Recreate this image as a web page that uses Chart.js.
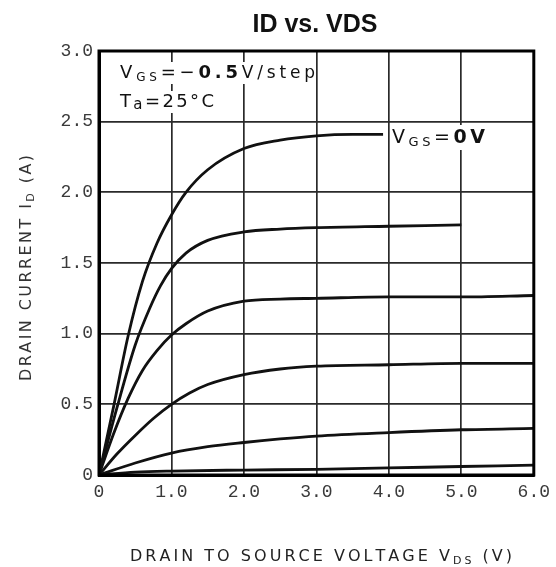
<!DOCTYPE html>
<html>
<head>
<meta charset="utf-8">
<script src="https://cdn.jsdelivr.net/npm/chart.js@4/dist/chart.umd.min.js"></script>
<style>
  html, body { margin: 0; padding: 0; background: #fff; }
  #wrap { width: 556px; height: 567px; }
</style>
</head>
<body>
<div id="wrap"><canvas id="c" width="556" height="567"></canvas></div>
<script>
// ---- Data ----
const seriesLabels = ['VGS = 0V', 'VGS = -0.5V', 'VGS = -1.0V', 'VGS = -1.5V', 'VGS = -2.0V', 'VGS = -2.5V'];

const vds0 = [0, 0.20, 0.40, 0.60, 0.80, 1.00, 1.20, 1.50, 2.00, 2.50, 3.00, 3.50, 3.92];
const id0  = [0, 0.48, 0.98, 1.37, 1.64, 1.84, 2.00, 2.16, 2.31, 2.37, 2.40, 2.41, 2.41];

const vds1 = [0, 0.25, 0.50, 0.70, 0.85, 1.00, 1.20, 1.50, 2.00, 2.50, 3.00, 4.00, 5.00];
const id1  = [0, 0.48, 0.92, 1.18, 1.34, 1.46, 1.57, 1.66, 1.72, 1.74, 1.75, 1.76, 1.77];

const vds2 = [0, 0.20, 0.40, 0.60, 0.80, 1.00, 1.20, 1.50, 2.00, 2.50, 3.00, 4.00, 5.00, 6.00];
const id2  = [0, 0.29, 0.54, 0.74, 0.88, 0.99, 1.07, 1.16, 1.23, 1.245, 1.25, 1.26, 1.26, 1.27];

const vds3 = [0, 0.25, 0.50, 0.75, 1.00, 1.25, 1.50, 2.00, 2.50, 3.00, 4.00, 5.00, 6.00];
const id3  = [0, 0.15, 0.28, 0.40, 0.50, 0.58, 0.64, 0.71, 0.75, 0.77, 0.78, 0.79, 0.79];

const vds4 = [0, 0.50, 1.00, 1.50, 2.00, 2.50, 3.00, 4.00, 5.00, 6.00];
const id4  = [0, 0.085, 0.155, 0.20, 0.23, 0.255, 0.275, 0.30, 0.32, 0.33];

const vds5 = [0, 0.50, 1.00, 2.00, 3.00, 4.00, 5.00, 6.00];
const id5  = [0, 0.02, 0.028, 0.035, 0.04, 0.05, 0.06, 0.07];

const xTicks = [0, 1, 2, 3, 4, 5, 6];
const xTickLabels = ['0', '1.0', '2.0', '3.0', '4.0', '5.0', '6.0'];
const yTicks = [0, 0.5, 1, 1.5, 2, 2.5, 3];
const yTickLabels = ['0', '0.5', '1.0', '1.5', '2.0', '2.5', '3.0'];

const chartTitle = 'ID vs. VDS';

// ---- build datasets ----
const xs = [vds0, vds1, vds2, vds3, vds4, vds5];
const ys = [id0, id1, id2, id3, id4, id5];
const datasets = xs.map((xa, i) => ({
  label: seriesLabels[i],
  data: xa.map((x, j) => ({ x: x, y: ys[i][j] })),
  borderColor: '#111',
  borderWidth: 2.8,
  pointRadius: 0,
  fill: false,
  cubicInterpolationMode: 'monotone'
}));

// ---- rich text helper ----
function richMeasure(ctx, segs) {
  let w = 0, n = 0;
  for (const s of segs) {
    ctx.font = s.f;
    for (const ch of s.t) { w += ctx.measureText(ch).width; n++; }
  }
  return { w, n };
}
function drawRich(ctx, segs, x, y, o) {
  o = o || {};
  const m = richMeasure(ctx, segs);
  let ls = o.ls || 0;
  if (o.target) ls = (o.target - m.w) / (m.n - 1);
  const total = m.w + ls * (m.n - 1);
  let cx = o.align === 'center' ? x - total / 2 : x;
  if (o.bg) {
    ctx.fillStyle = '#fff';
    ctx.fillRect(cx - 2, y - o.bg[0], total + 3, o.bg[0] + o.bg[1]);
  }
  ctx.textAlign = 'left';
  ctx.textBaseline = 'alphabetic';
  for (const s of segs) {
    ctx.font = s.f;
    ctx.fillStyle = s.c || o.color || '#111';
    for (const ch of s.t) {
      ctx.fillText(ch, cx, y + (s.dy || 0));
      cx += ctx.measureText(ch).width + ls;
    }
  }
}

const FS = '"Liberation Sans", Arial, sans-serif';
const FD = '"DejaVu Sans", sans-serif';

const decor = {
  id: 'decor',
  afterDatasetsDraw(chart) {
    const ctx = chart.ctx;
    const a = chart.chartArea;
    ctx.save();
    ctx.strokeStyle = '#000';
    ctx.lineWidth = 3;
    ctx.strokeRect(a.left, a.top, a.right - a.left, a.bottom - a.top);
    ctx.restore();
  },
  afterDraw(chart) {
    const ctx = chart.ctx;
    ctx.save();
    // Title
    ctx.font = 'bold 25px ' + FS;
    ctx.fillStyle = '#111';
    ctx.textAlign = 'center';
    ctx.textBaseline = 'middle';
    ctx.fillText(chartTitle, 315, 25);

    // Annotation block
    drawRich(ctx, [
      { t: 'V', f: '18px ' + FD },
      { t: 'GS', f: '12px ' + FD, dy: 3 },
      { t: '=\u2212', f: '18px ' + FD },
      { t: '0.5', f: 'bold 18px ' + FD },
      { t: 'V/step', f: '17px ' + FD }
    ], 120, 78, { target: 195, bg: [16, 6] });
    drawRich(ctx, [
      { t: 'T', f: '18px ' + FD },
      { t: 'a', f: '15px ' + FD, dy: 2 },
      { t: '=25\u00b0C', f: '18px ' + FD }
    ], 120, 107, { target: 94, bg: [16, 6] });

    // Curve label
    drawRich(ctx, [
      { t: 'V', f: '19px ' + FD },
      { t: 'GS', f: '13px ' + FD, dy: 3 },
      { t: '=', f: '19px ' + FD },
      { t: '0V', f: 'bold 19px ' + FD }
    ], 392, 143, { target: 93, bg: [18, 7] });

    // X axis title
    drawRich(ctx, [
      { t: 'DRAIN TO SOURCE VOLTAGE V', f: '16px ' + FD },
      { t: 'DS', f: '11px ' + FD, dy: 3 },
      { t: ' (V)', f: '16px ' + FD }
    ], 321, 561, { target: 382, align: 'center', color: '#222' });

    // Y axis title (rotated)
    ctx.translate(31, 268);
    ctx.rotate(-Math.PI / 2);
    drawRich(ctx, [
      { t: 'DRAIN CURRENT I', f: '16px ' + FD },
      { t: 'D', f: '11px ' + FD, dy: 3 },
      { t: ' (A)', f: '16px ' + FD }
    ], 0, 0, { target: 226, align: 'center', color: '#333' });
    ctx.restore();
  }
};

new Chart(document.getElementById('c'), {
  type: 'line',
  data: { datasets },
  plugins: [decor],
  options: {
    responsive: false,
    animation: false,
    devicePixelRatio: 1,
    layout: { padding: { top: 51, right: 21, left: 0, bottom: 0 } },
    plugins: { legend: { display: false }, tooltip: { enabled: false }, title: { display: false } },
    scales: {
      x: {
        type: 'linear', min: 0, max: 6,
        afterBuildTicks(s) { s.ticks = xTicks.map(v => ({ value: v })); },
        afterFit(s) { s.height = 92; },
        ticks: {
          padding: 6, color: '#3a3a3a', maxRotation: 0, autoSkip: false,
          font: { family: '"Liberation Mono", "DejaVu Sans Mono", monospace', size: 18 },
          callback: (v) => xTickLabels[xTicks.indexOf(v)]
        },
        grid: { color: '#2a2a2a', lineWidth: 1.7, drawTicks: false },
        border: { display: true, color: '#000', width: 3 }
      },
      y: {
        type: 'linear', min: 0, max: 3,
        afterBuildTicks(s) { s.ticks = yTicks.map(v => ({ value: v })); },
        afterFit(s) { s.width = 99; },
        ticks: {
          padding: 6, color: '#3a3a3a', autoSkip: false,
          font: { family: '"Liberation Mono", "DejaVu Sans Mono", monospace', size: 18 },
          callback: (v) => yTickLabels[yTicks.indexOf(v)]
        },
        grid: { color: '#2a2a2a', lineWidth: 1.7, drawTicks: false },
        border: { display: true, color: '#000', width: 3 }
      }
    }
  }
});
</script>
</body>
</html>
